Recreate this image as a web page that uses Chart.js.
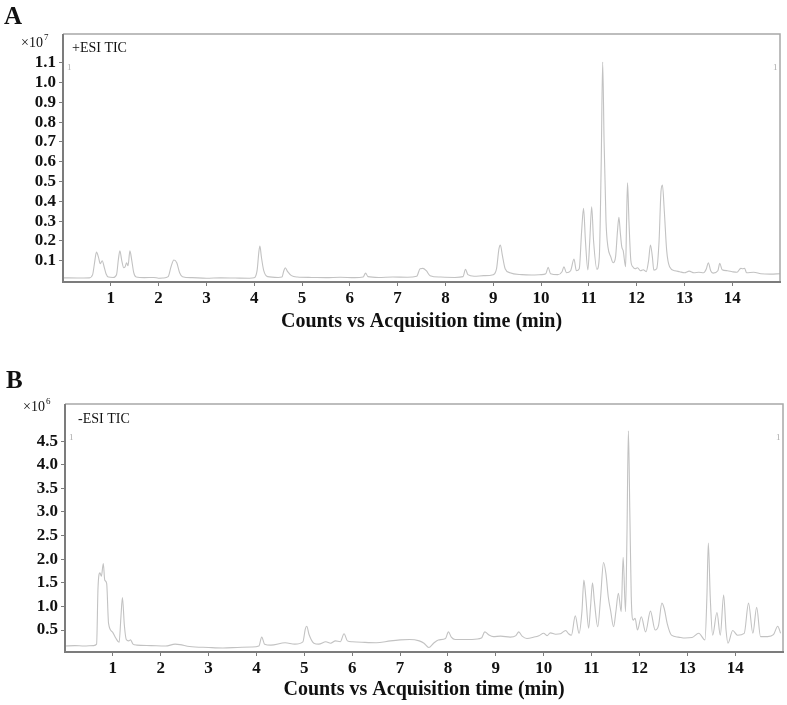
<!DOCTYPE html>
<html lang="en">
<head>
<meta charset="UTF-8">
<title>TIC chromatograms</title>
<script src="https://cdn.jsdelivr.net/npm/chart.js"></script>
<style>
  body { margin: 0; background: #fff; }
  .panel { position: absolute; left: 0; width: 787px; }
  #panelA { top: 0; height: 340px; }
  #panelB { top: 350px; height: 355px; }
</style>
</head>
<body>
<div class="panel" id="panelA"><canvas id="ticA"></canvas></div>
<div class="panel" id="panelB"><canvas id="ticB"></canvas></div>

<script>
// acquisition time (min)
var xTicks = [1, 2, 3, 4, 5, 6, 7, 8, 9, 10, 11, 12, 13, 14];

// A: +ESI TIC, counts x10^7
var yTicksA = [0.1, 0.2, 0.3, 0.4, 0.5, 0.6, 0.7, 0.8, 0.9, 1.0, 1.1];
var timeA = [0.0, 0.3, 0.55, 0.62, 0.66, 0.70, 0.74, 0.78, 0.82, 0.86, 0.90, 0.95, 1.05, 1.12, 1.16, 1.19, 1.23, 1.27, 1.30, 1.33,
  1.36, 1.40, 1.44, 1.48, 1.53, 1.7, 1.9, 2.0, 2.1, 2.2, 2.26, 2.32, 2.38, 2.44, 2.5, 2.7, 3.0, 3.3, 3.6, 3.9,
  4.0, 4.06, 4.10, 4.12, 4.15, 4.20, 4.28, 4.5, 4.58, 4.62, 4.65, 4.70, 4.78, 4.9, 5.2, 5.5, 5.8, 6.1, 6.28, 6.33,
  6.38, 6.6, 6.9, 7.2, 7.4, 7.47, 7.53, 7.6, 7.68, 7.9, 8.2, 8.37, 8.42, 8.47, 8.6, 8.8, 9.0, 9.07, 9.12, 9.15,
  9.19, 9.25, 9.35, 9.6, 9.8, 10.0, 10.10, 10.15, 10.2, 10.35, 10.44, 10.48, 10.53, 10.62, 10.69, 10.74, 10.80, 10.85, 10.89, 10.93,
  10.98, 11.02, 11.06, 11.10, 11.17, 11.22, 11.26, 11.29, 11.32, 11.36, 11.40, 11.46, 11.51, 11.56, 11.60, 11.63, 11.66, 11.69, 11.72, 11.77,
  11.79, 11.81, 11.84, 11.88, 11.92, 11.97, 12.02, 12.08, 12.14, 12.2, 12.25, 12.29, 12.33, 12.36, 12.42, 12.47, 12.51, 12.54, 12.58, 12.63,
  12.69, 12.8, 12.9, 13.0, 13.1, 13.2, 13.3, 13.4, 13.46, 13.5, 13.55, 13.6, 13.7, 13.74, 13.79, 13.9, 14.0, 14.1, 14.18, 14.22,
  14.26, 14.3, 14.45, 14.6, 14.8, 15.0];
var countsA = [0.014, 0.013, 0.014, 0.03, 0.09, 0.144, 0.12, 0.085, 0.100, 0.07, 0.035, 0.018, 0.016, 0.03, 0.11, 0.151, 0.10, 0.065, 0.07, 0.09,
  0.075, 0.150, 0.10, 0.04, 0.018, 0.015, 0.016, 0.012, 0.013, 0.02, 0.07, 0.104, 0.09, 0.04, 0.02, 0.015, 0.012, 0.014, 0.013, 0.012,
  0.014, 0.05, 0.15, 0.175, 0.12, 0.05, 0.02, 0.016, 0.018, 0.05, 0.065, 0.045, 0.025, 0.018, 0.016, 0.015, 0.017, 0.015, 0.018, 0.038,
  0.02, 0.016, 0.018, 0.017, 0.022, 0.06, 0.062, 0.05, 0.025, 0.018, 0.016, 0.02, 0.057, 0.03, 0.022, 0.025, 0.03, 0.06, 0.16, 0.18,
  0.13, 0.06, 0.04, 0.03, 0.028, 0.03, 0.035, 0.067, 0.035, 0.03, 0.045, 0.07, 0.04, 0.05, 0.109, 0.05, 0.06, 0.25, 0.365, 0.2,
  0.054, 0.2, 0.373, 0.2, 0.057, 0.12, 0.6, 1.104, 0.7, 0.3, 0.17, 0.12, 0.09, 0.12, 0.25, 0.32, 0.24, 0.17, 0.15, 0.07,
  0.3, 0.494, 0.3, 0.1, 0.07, 0.06, 0.065, 0.05, 0.055, 0.045, 0.1, 0.18, 0.12, 0.053, 0.06, 0.2, 0.45, 0.483, 0.35, 0.15,
  0.07, 0.05, 0.045, 0.04, 0.048, 0.04, 0.042, 0.04, 0.06, 0.09, 0.05, 0.038, 0.05, 0.087, 0.055, 0.05, 0.045, 0.042, 0.062, 0.06,
  0.062, 0.04, 0.042, 0.035, 0.033, 0.035];

// B: -ESI TIC, counts x10^6
var yTicksB = [0.5, 1.0, 1.5, 2.0, 2.5, 3.0, 3.5, 4.0, 4.5];
var timeB = [0.0, 0.2, 0.4, 0.6, 0.66, 0.69, 0.73, 0.76, 0.80, 0.83, 0.87, 0.91, 0.99, 1.06, 1.13, 1.17, 1.20, 1.24, 1.28, 1.33,
  1.37, 1.42, 1.5, 1.8, 2.1, 2.3, 2.4, 2.6, 3.0, 3.3, 3.6, 3.9, 4.05, 4.11, 4.17, 4.3, 4.6, 4.8, 4.97, 5.02,
  5.05, 5.10, 5.2, 5.3, 5.45, 5.55, 5.65, 5.75, 5.83, 5.9, 6.0, 6.2, 6.5, 6.8, 7.0, 7.2, 7.4, 7.5, 7.6, 7.7,
  7.8, 7.95, 8.01, 8.07, 8.15, 8.5, 8.7, 8.77, 8.85, 8.95, 9.1, 9.3, 9.42, 9.48, 9.55, 9.65, 9.8, 9.9, 10.0, 10.07,
  10.14, 10.25, 10.35, 10.46, 10.52, 10.58, 10.66, 10.74, 10.8, 10.84, 10.88, 10.94, 10.98, 11.02, 11.06, 11.13, 11.19, 11.25, 11.30, 11.35,
  11.40, 11.46, 11.51, 11.56, 11.62, 11.66, 11.71, 11.74, 11.77, 11.80, 11.83, 11.87, 11.91, 11.96, 12.04, 12.13, 12.23, 12.33, 12.40, 12.47,
  12.52, 12.58, 12.67, 12.81, 12.95, 13.1, 13.24, 13.37, 13.41, 13.44, 13.48, 13.53, 13.62, 13.69, 13.76, 13.81, 13.85, 13.95, 14.05, 14.19,
  14.28, 14.37, 14.45, 14.53, 14.68, 14.8, 14.89, 14.95];
var countsB = [0.16, 0.17, 0.16, 0.17, 0.2, 1.4, 1.71, 1.64, 1.91, 1.56, 1.49, 0.64, 0.46, 0.33, 0.24, 0.8, 1.19, 0.6, 0.30, 0.27,
  0.29, 0.2, 0.18, 0.17, 0.16, 0.2, 0.19, 0.15, 0.13, 0.12, 0.13, 0.14, 0.16, 0.35, 0.2, 0.18, 0.23, 0.2, 0.25, 0.52,
  0.58, 0.4, 0.22, 0.2, 0.25, 0.22, 0.27, 0.25, 0.42, 0.27, 0.25, 0.24, 0.23, 0.27, 0.29, 0.3, 0.27, 0.22, 0.13, 0.22,
  0.29, 0.32, 0.46, 0.35, 0.30, 0.30, 0.33, 0.46, 0.4, 0.36, 0.37, 0.35, 0.38, 0.46, 0.37, 0.32, 0.35, 0.38, 0.43, 0.38,
  0.44, 0.41, 0.42, 0.49, 0.42, 0.39, 0.80, 0.43, 0.9, 1.56, 1.2, 0.54, 1.0, 1.50, 1.1, 0.57, 1.2, 1.93, 1.7, 1.2,
  0.9, 0.57, 0.9, 1.28, 0.89, 2.04, 0.89, 2.5, 4.72, 3.0, 1.2, 0.71, 0.75, 0.50, 0.78, 0.46, 0.90, 0.50, 0.6, 1.07,
  0.95, 0.64, 0.39, 0.35, 0.33, 0.34, 0.43, 0.29, 1.2, 2.34, 1.2, 0.39, 0.87, 0.39, 1.24, 0.5, 0.22, 0.49, 0.39, 0.43,
  1.07, 0.43, 0.98, 0.36, 0.36, 0.4, 0.58, 0.43];

var serif = "'Liberation Serif', 'Times New Roman', serif";

// frame + the panel letters and annotations
var panelDecor = {
  id: 'panelDecor',
  afterDraw: function (chart, args, o) {
    var ctx = chart.ctx, a = chart.chartArea;
    ctx.save();
    ctx.lineWidth = 1.5;
    ctx.strokeStyle = '#a8a8a8';
    ctx.beginPath();
    ctx.moveTo(a.left, a.top);
    ctx.lineTo(a.right, a.top);
    ctx.lineTo(a.right, a.bottom);
    ctx.stroke();
    ctx.lineWidth = 2;
    ctx.strokeStyle = '#7c7c7c';
    ctx.beginPath();
    ctx.moveTo(a.left, a.top);
    ctx.lineTo(a.left, a.bottom);
    ctx.lineTo(a.right + 1, a.bottom);
    ctx.stroke();

    ctx.fillStyle = '#111';
    ctx.textBaseline = 'alphabetic';
    ctx.textAlign = 'left';
    ctx.font = 'bold 25px ' + serif;
    ctx.fillText(o.letter, o.letterX, o.letterY);

    ctx.font = '14px ' + serif;
    ctx.fillText('\u00d710', o.expX, o.expY);
    var w = ctx.measureText('\u00d710').width;
    ctx.font = '9px ' + serif;
    ctx.fillText(o.power, o.expX + w + 1, o.expY - 7);

    ctx.font = '14px ' + serif;
    ctx.fillText(o.mode, o.modeX, o.modeY);

    ctx.fillStyle = '#aaa';
    ctx.font = '9px ' + serif;
    ctx.fillText('1', a.left + 4, o.markY);
    ctx.fillText('1', a.right - 7, o.markY);
    ctx.restore();
  }
};

function drawTic(id, times, counts, yTicks, yMin, yMax, lay, decor) {
  var pts = [];
  for (var i = 0; i < times.length; i++) {
    pts.push({ x: times[i], y: counts[i] });
  }
  return new Chart(document.getElementById(id), {
    type: 'line',
    data: {
      datasets: [{
        data: pts,
        borderColor: '#c2c2c2',
        borderWidth: 1.1,
        pointRadius: 0,
        cubicInterpolationMode: 'monotone',
        fill: false
      }]
    },
    options: {
      responsive: true,
      maintainAspectRatio: false,
      animation: false,
      events: [],
      layout: { padding: { top: lay.top, right: lay.right, left: 0, bottom: 0 } },
      plugins: {
        legend: { display: false },
        tooltip: { enabled: false },
        panelDecor: decor
      },
      scales: {
        x: {
          type: 'linear',
          min: 0,
          max: 15,
          afterBuildTicks: function (s) {
            s.ticks = xTicks.map(function (v) { return { value: v }; });
          },
          afterFit: function (s) { s.height = lay.xHeight; },
          border: { display: false },
          grid: { drawOnChartArea: false, tickLength: 4, color: '#7c7c7c', tickWidth: 1 },
          ticks: {
            color: '#111',
            padding: 2,
            maxRotation: 0,
            autoSkip: false,
            font: { family: serif, size: 17, weight: 'bold' }
          },
          title: {
            display: true,
            text: 'Counts vs Acquisition time (min)',
            color: '#111',
            padding: { top: 0, bottom: lay.titlePad },
            font: { family: serif, size: 20, weight: 'bold' }
          }
        },
        y: {
          min: yMin,
          max: yMax,
          afterBuildTicks: function (s) {
            s.ticks = yTicks.map(function (v) { return { value: v }; });
          },
          afterFit: function (s) { s.width = lay.yWidth; },
          border: { display: false },
          grid: { drawOnChartArea: false, tickLength: 4, color: '#7c7c7c', tickWidth: 1 },
          ticks: {
            color: '#111',
            padding: 3,
            font: { family: serif, size: 17, weight: 'bold' },
            callback: function (v) { return v.toFixed(1); }
          }
        }
      }
    },
    plugins: [panelDecor]
  });
}

drawTic('ticA', timeA, countsA, yTicksA, -0.007, 1.245,
  { top: 34, right: 7, xHeight: 58, yWidth: 63, titlePad: 6 },
  { letter: 'A', letterX: 4, letterY: 24, power: '7', expX: 21, expY: 47, mode: '+ESI TIC', modeX: 72, modeY: 52, markY: 70 });

drawTic('ticB', timeB, countsB, yTicksB, 0.034, 5.288,
  { top: 54, right: 4, xHeight: 53, yWidth: 65, titlePad: 3 },
  { letter: 'B', letterX: 6, letterY: 38, power: '6', expX: 23, expY: 61, mode: '-ESI TIC', modeX: 78, modeY: 73, markY: 90 });
</script>
</body>
</html>
